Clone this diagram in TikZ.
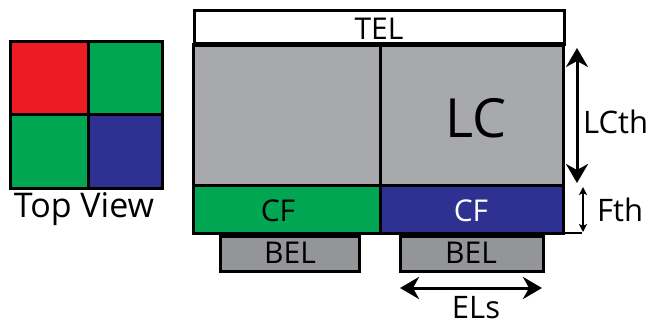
\documentclass[tikz,border=0pt]{standalone}
\usepackage{fontspec}
\setmainfont{Open Sans}
\usetikzlibrary{arrows.meta}
\definecolor{pred}{HTML}{ED1C24}
\definecolor{pgreen}{HTML}{00A651}
\definecolor{pblue}{HTML}{2E3192}
\definecolor{lcgray}{HTML}{A7A9AC}
\definecolor{belgray}{HTML}{939598}
\tikzset{
  cell/.style={draw=black, line width=3pt},
  lbl/.style={inner sep=0pt, text=black, anchor=base},
  small/.style={font=\fontsize{30}{30}\selectfont},
  big/.style={font=\fontsize{31}{31}\selectfont},
  dim/.style={line width=3pt, {Stealth[length=19pt,width=22pt,inset=6pt]}-{Stealth[length=19pt,width=22pt,inset=6pt]}},
  dimsmall/.style={line width=2pt, {Stealth[length=8pt,width=8pt,inset=2pt]}-{Stealth[length=8pt,width=8pt,inset=2pt]}},
}
\begin{document}
\begin{tikzpicture}[x=1pt,y=-1pt]
\useasboundingbox (0,0) rectangle (665,321);
% top view
\fill[pred] (10,42) rectangle (88,115);
\fill[pgreen] (88,42) rectangle (162,115);
\fill[pgreen] (10,115) rectangle (88,188);
\fill[pblue] (88,115) rectangle (162,188);
\draw[cell] (10,42) rectangle (162,188);
\draw[cell] (88,42) -- (88,188);
\draw[cell] (10,115) -- (162,115);
\node[lbl, font=\fontsize{34}{34}\selectfont] (tv) at (84,218) {Top View};
% TEL
\node[cell, fill=white, minimum width=370pt, minimum height=34pt, anchor=north west, inner sep=0pt] (tel) at (193,9) {};
\node[lbl, small] at (379,40) {TEL};
% LC
\fill[lcgray] (193,45) rectangle (563,185);
\draw[cell] (193,45) rectangle (563,185);
\draw[line width=5pt] (193,45) -- (563,45);
\draw[cell] (380,45) -- (380,185);
\node[lbl, font=\fontsize{54}{54}\selectfont] (lc) at (476,138) {LC};
% CF
\fill[pgreen] (193,185) rectangle (380,233);
\fill[pblue] (380,185) rectangle (563,233);
\draw[cell] (193,185) rectangle (563,233);
\draw[cell] (380,185) -- (380,233);
\draw[line width=2pt] (563,233) -- (582,233);
\node[lbl, small] (cf1) at (278,221) {CF};
\node[lbl, small, text=white] (cf2) at (471,221) {CF};
% BEL
\node[cell, fill=belgray, minimum width=139pt, minimum height=35pt, anchor=north west, inner sep=0pt] (bel1) at (219,235) {};
\node[lbl, small] at (290,263) {BEL};
\node[cell, fill=belgray, minimum width=143pt, minimum height=35pt, anchor=north west, inner sep=0pt] (bel2) at (399,235) {};
\node[lbl, small] at (471,263) {BEL};
% dimensions
\coordinate (lct) at (577,48);
\coordinate (lcb) at (577,183);
\draw[dim] (lct) -- (lcb);
\node[lbl, big, anchor=base west] (lcth) at (583,133) {LCth};
\coordinate (ft) at (583,187);
\coordinate (fb) at (583,232);
\draw[dimsmall] (ft) -- (fb);
\node[lbl, big, anchor=base west] (fth) at (597,222) {Fth};
\coordinate (el) at (400,288);
\coordinate (er) at (542,288);
\draw[dim] (el) -- (er);
\node[lbl, big] (els) at (476,318) {ELs};
\end{tikzpicture}
\end{document}
